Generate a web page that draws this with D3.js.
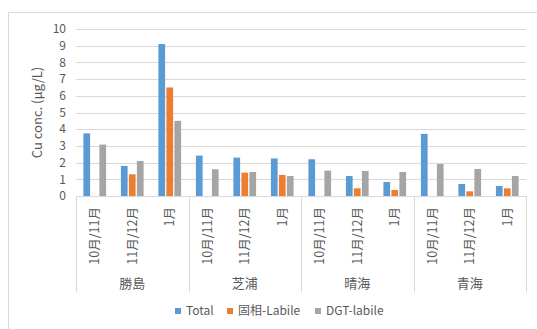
<!DOCTYPE html>
<html>
<head>
<meta charset="utf-8">
<script src="https://cdn.jsdelivr.net/npm/d3@7"></script>
<style>
  body { margin: 0; background: #fff; }
  text { font-family: "Noto Sans CJK JP", "Open Sans", sans-serif; fill: #595959; }
</style>
</head>
<body>
<svg id="chart" width="537" height="329"></svg>
<script>
const sites = ["勝島", "芝浦", "晴海", "青海"];
const periods = ["10月/11月", "11月/12月", "1月"];
const seriesNames = ["Total", "固相-Labile", "DGT-labile"];
const colors = ["#5b9bd5", "#ed7d31", "#a5a5a5"];

// values per site, per period, in order site0 p0..p2, site1 p0..p2, ...
const total = [3.75, 1.8, 9.1, 2.42, 2.3, 2.25, 2.2, 1.2, 0.84, 3.72, 0.72, 0.6];
const solidLabile = [0, 1.3, 6.5, 0, 1.4, 1.26, 0, 0.46, 0.36, 0, 0.28, 0.46];
const dgtLabile = [3.08, 2.1, 4.5, 1.6, 1.44, 1.2, 1.52, 1.5, 1.44, 1.92, 1.62, 1.2];
const yTicks = [0, 1, 2, 3, 4, 5, 6, 7, 8, 9, 10];

const series = [total, solidLabile, dgtLabile];
const cats = sites.flatMap(s => periods.map(p => s + "|" + p));

const svg = d3.select("#chart");
const margin = { left: 76, right: 11, top: 29, bottom: 133 };
const width = 537 - margin.left - margin.right;
const height = 329 - margin.top - margin.bottom;

// outer border
svg.append("rect")
  .attr("x", 8.5).attr("y", 12.5)
  .attr("width", 600).attr("height", 400)
  .attr("fill", "none").attr("stroke", "#d9d9d9");

const g = svg.append("g").attr("transform", `translate(${margin.left},${margin.top})`);

const x = d3.scaleBand().domain(cats).range([0, width]);
const y = d3.scaleLinear().domain([0, 10]).range([height, 0]);
const xSeries = d3.scaleBand().domain(d3.range(3)).range([0, 22.7]).paddingInner(0.16);

g.selectAll(".grid")
  .data(yTicks)
  .enter().append("line")
  .attr("x1", 0).attr("x2", width)
  .attr("y1", d => Math.round(y(d)) + 0.5).attr("y2", d => Math.round(y(d)) + 0.5)
  .attr("stroke", "#d9d9d9");

g.selectAll(".ytick")
  .data(yTicks)
  .enter().append("text")
  .attr("x", -10).attr("y", d => y(d))
  .attr("dy", "0.35em")
  .attr("text-anchor", "end")
  .style("font-size", "12px")
  .text(d => d);

svg.append("text")
  .attr("transform", `translate(42,${margin.top + height / 2}) rotate(-90)`)
  .attr("text-anchor", "middle")
  .style("font-size", "13px")
  .text("Cu conc. (µg/L)");

series.forEach((vals, si) => {
  g.selectAll(".bar" + si)
    .data(vals)
    .enter().append("rect")
    .attr("x", (d, i) => x(cats[i]) + x.bandwidth() / 2 - 11.35 + xSeries(si))
    .attr("width", xSeries.bandwidth())
    .attr("y", d => y(d))
    .attr("height", d => height - y(d))
    .attr("fill", colors[si]);
});

// group separators below axis
const groupW = width / sites.length;
g.selectAll(".sep")
  .data(d3.range(sites.length + 1))
  .enter().append("line")
  .attr("x1", d => Math.round(d * groupW) + 0.5).attr("x2", d => Math.round(d * groupW) + 0.5)
  .attr("y1", height).attr("y2", height + 96)
  .attr("stroke", "#d9d9d9");

g.selectAll(".plabel")
  .data(cats)
  .enter().append("text")
  .attr("transform", d => `translate(${x(d) + x.bandwidth() / 2},${height + 11}) rotate(-90)`)
  .attr("dy", "0.35em")
  .attr("text-anchor", "end")
  .style("font-size", "12.5px")
  .text(d => d.split("|")[1]);

g.selectAll(".slabel")
  .data(sites)
  .enter().append("text")
  .attr("x", (d, i) => (i + 0.5) * groupW)
  .attr("y", height + 87)
  .attr("dy", "0.35em")
  .attr("text-anchor", "middle")
  .style("font-size", "13px")
  .text(d => d);

// legend
const legendX = [175, 227, 315];
const legend = svg.selectAll(".legend")
  .data(seriesNames)
  .enter().append("g")
  .attr("transform", (d, i) => `translate(${legendX[i]},308)`);
legend.append("rect")
  .attr("width", 6).attr("height", 6)
  .attr("fill", (d, i) => colors[i]);
legend.append("text")
  .attr("x", 11).attr("y", 3)
  .attr("dy", "0.35em")
  .style("font-size", "12px")
  .text(d => d);
</script>
</body>
</html>
